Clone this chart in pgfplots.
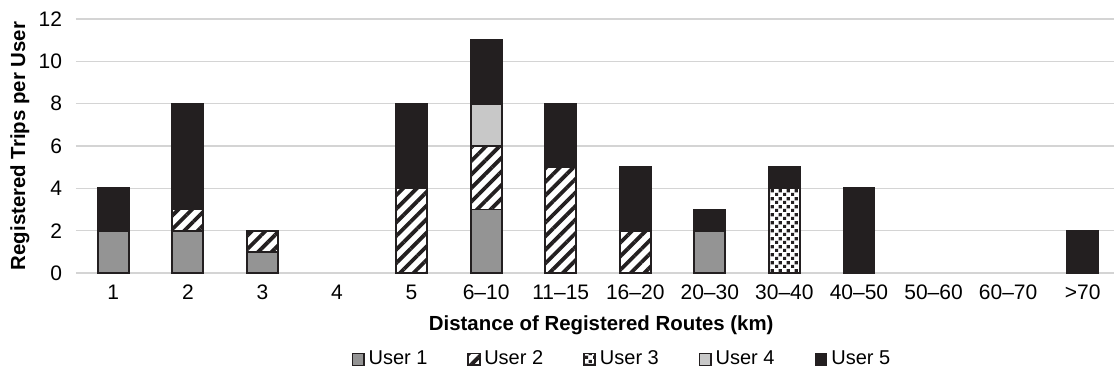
\documentclass[border=0pt]{standalone}
\usepackage{fontspec}
\setmainfont{Liberation Sans}
\usepackage{pgfplots}
\pgfplotsset{compat=1.18}
\usepackage{pgfplotstable}
\usetikzlibrary{patterns,patterns.meta}

\pgfdeclarepatternformonly{sqdots}{\pgfqpoint{0pt}{0pt}}{\pgfqpoint{3.8bp}{3.8bp}}{\pgfqpoint{3.8bp}{3.8bp}}{%
  \pgfpathrectangle{\pgfqpoint{0pt}{0pt}}{\pgfqpoint{1.65bp}{1.65bp}}%
  \pgfpathrectangle{\pgfqpoint{1.9bp}{1.9bp}}{\pgfqpoint{1.65bp}{1.65bp}}%
  \pgfusepath{fill}}

\definecolor{u1}{HTML}{949494}
\definecolor{u4}{HTML}{C8C8C8}
\definecolor{u5}{HTML}{231F20}
\definecolor{gridc}{HTML}{D4D4D4}

% categories: 0=1,1=2,2=3,3=4,4=5,5=6-10,6=11-15,7=16-20,8=20-30,9=30-40,10=40-50,11=50-60,12=60-70,13=>70
\pgfplotstableread{
x  U1 U2 U3 U4 U5
0  2  0  0  0  2
1  2  1  0  0  5
2  1  1  0  0  0
4  0  4  0  0  4
5  3  3  0  2  3
6  0  5  0  0  3
7  0  2  0  0  3
8  2  0  0  0  1
9  0  0  4  0  1
10 0  0  0  0  4
13 0  0  0  0  2
}\data

\begin{document}
\begin{tikzpicture}
\useasboundingbox (-38bp,-50.65bp) rectangle (519bp,136.5bp);
\begin{axis}[
  scale only axis,
  width=519bp, height=127bp,
  xmin=-0.5, xmax=13.42,
  ymin=0, ymax=12,
  ybar stacked,
  bar width=15.5bp,
  ytick={0,2,...,12},
  xtick={0,...,13},
  xticklabels={1,2,3,4,5,6--10,11--15,16--20,20--30,30--40,40--50,50--60,60--70,>70},
  /pgf/number format/assume math mode=true,
  axis line style={draw=none},
  major tick length=0pt,
  ymajorgrids,
  major grid style={draw=gridc, line width=0.8bp},
  ticklabel style={font=\fontsize{10.5bp}{12bp}\selectfont},
  xticklabel style={yshift=-2.5bp},
  yticklabel style={xshift=-3.5bp},
  xlabel={Distance of Registered Routes (km)},
  ylabel={Registered Trips per User},
  label style={font=\bfseries\fontsize{10.2bp}{12bp}\selectfont},
  xlabel style={at={(axis description cs:0.506,-0.205)}, anchor=center},
  ylabel style={at={(axis description cs:-0.054,0.5)}, anchor=center},
  legend style={at={(axis description cs:0.527,-0.34)}, anchor=center, draw=none,
    font=\fontsize{10bp}{12bp}\selectfont,
    /tikz/every even column/.append style={column sep=18bp}},
  legend columns=5,
  legend image code/.code={\draw[#1, line width=0.6bp] (0bp,-2.9bp) rectangle (5.8bp,2.9bp);},
  every axis plot/.append style={line width=0.9bp},
]
\addplot[fill=u1, draw=u5] table[x=x,y=U1]{\data};
\addplot[preaction={fill=white}, pattern={Lines[angle=45,distance=4.8bp,line width=1.9bp]}, pattern color=u5, draw=u5] table[x=x,y=U2]{\data};
\addplot[preaction={fill=white}, pattern=sqdots, pattern color=u5, draw=u5] table[x=x,y=U3]{\data};
\addplot[fill=u4, draw=u5] table[x=x,y=U4]{\data};
\addplot[fill=u5, draw=u5] table[x=x,y=U5]{\data};
\legend{User 1,User 2,User 3,User 4,User 5}
\end{axis}
\end{tikzpicture}
\end{document}
